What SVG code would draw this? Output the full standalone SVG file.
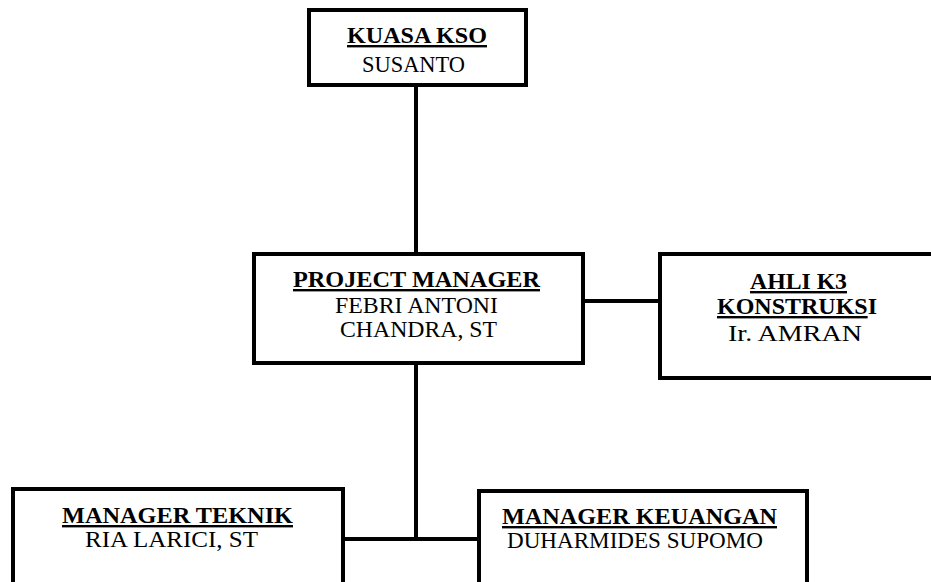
<svg xmlns="http://www.w3.org/2000/svg" width="931" height="582" viewBox="0 0 931 582">
<style>
.box{fill:#fff;stroke:#000;stroke-width:4}
.ln{stroke:#000;stroke-width:4;fill:none}
text{font-family:"Liberation Serif","Times New Roman",serif;font-size:24px;fill:#000;text-anchor:middle}
.b{font-weight:bold;text-decoration:underline}
</style>
<rect width="931" height="582" fill="#fff"/>
<g id="connectors">
<line class="ln" x1="416" y1="85" x2="416" y2="255"/>
<line class="ln" x1="416" y1="363" x2="416" y2="540"/>
<line class="ln" x1="583" y1="301" x2="660" y2="301"/>
<line class="ln" x1="343" y1="539" x2="480" y2="539"/>
</g>
<g id="kuasa">
<rect class="box" x="309" y="10" width="217" height="75"/>
<text class="b" x="417" y="43" textLength="140" lengthAdjust="spacingAndGlyphs">KUASA KSO</text>
<text x="413.5" y="72" textLength="103" lengthAdjust="spacingAndGlyphs">SUSANTO</text>
</g>
<g id="pm">
<rect class="box" x="254" y="254" width="329" height="109"/>
<text class="b" x="416.5" y="287" textLength="247" lengthAdjust="spacingAndGlyphs">PROJECT  MANAGER</text>
<text x="416.5" y="313" textLength="163" lengthAdjust="spacingAndGlyphs">FEBRI ANTONI</text>
<text x="418.5" y="337" textLength="157" lengthAdjust="spacingAndGlyphs">CHANDRA, ST</text>
</g>
<g id="ahli">
<rect class="box" x="660" y="254" width="276" height="124"/>
<text class="b" x="798.5" y="289" textLength="97" lengthAdjust="spacingAndGlyphs">AHLI K3</text>
<text x="717" y="314" font-weight="bold" style="text-anchor:start" textLength="160" lengthAdjust="spacingAndGlyphs"><tspan text-decoration="underline">KONSTRUKS</tspan>I</text>
<text x="795" y="341" textLength="134" lengthAdjust="spacingAndGlyphs">Ir. AMRAN</text>
</g>
<g id="teknik">
<rect class="box" x="13" y="489" width="330" height="100"/>
<text class="b" x="177.5" y="523" textLength="231" lengthAdjust="spacingAndGlyphs">MANAGER  TEKNIK</text>
<text x="171.5" y="547" textLength="173" lengthAdjust="spacingAndGlyphs">RIA LARICI, ST</text>
</g>
<g id="keuangan">
<rect class="box" x="479" y="491" width="328" height="100"/>
<text class="b" x="639.5" y="524" textLength="275" lengthAdjust="spacingAndGlyphs">MANAGER  KEUANGAN</text>
<text x="635" y="548" textLength="256" lengthAdjust="spacingAndGlyphs">DUHARMIDES SUPOMO</text>
</g>
</svg>
